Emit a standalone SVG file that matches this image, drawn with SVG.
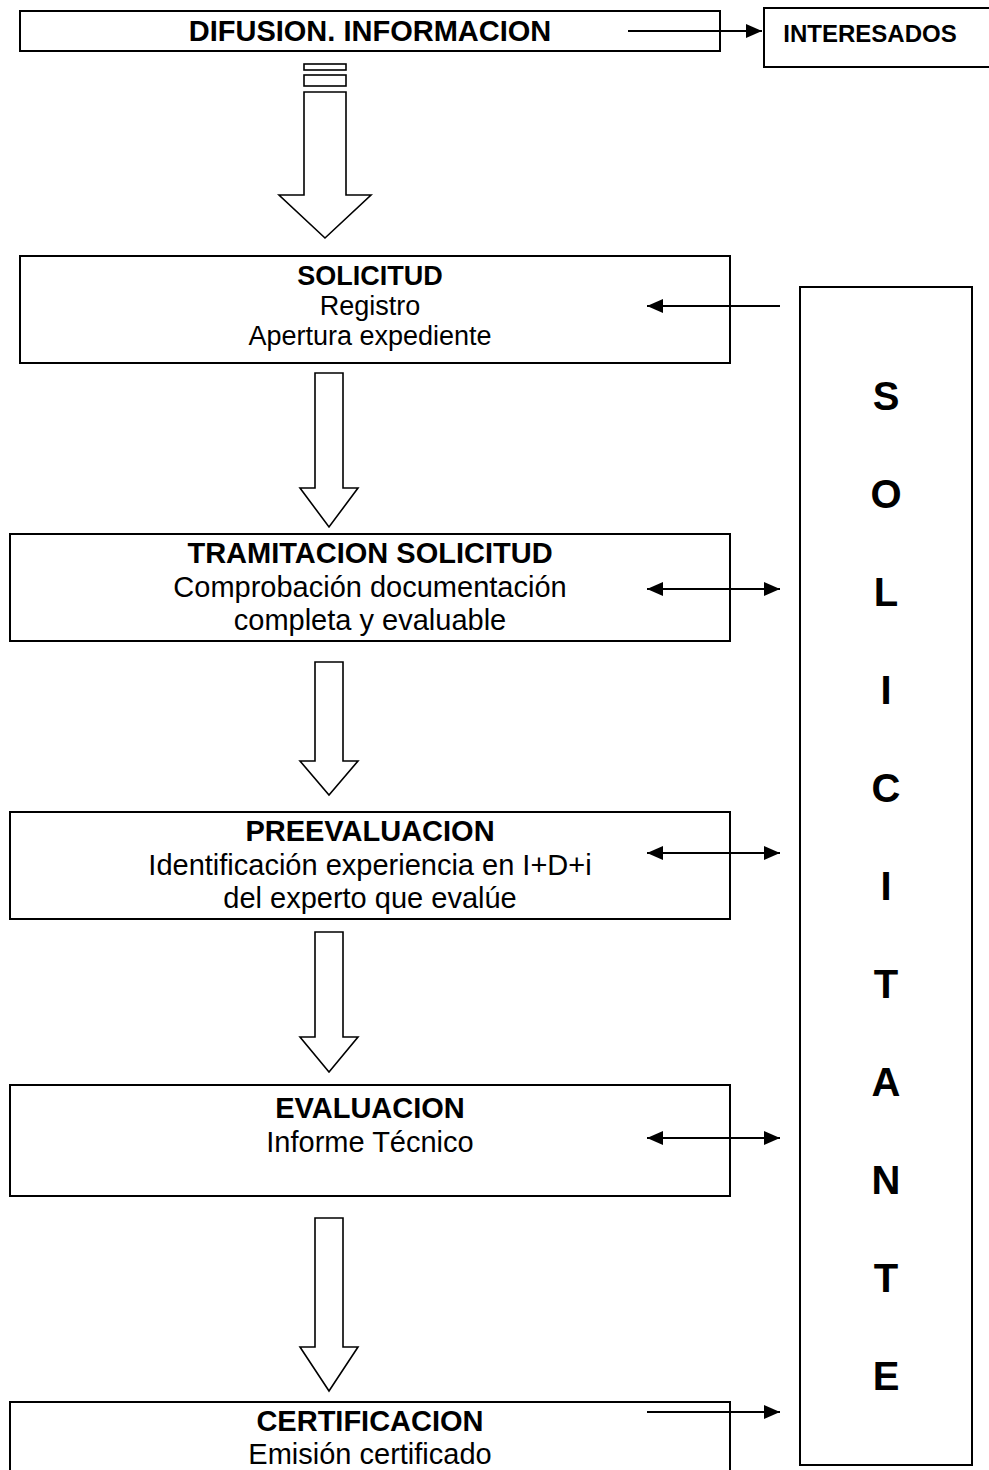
<svg xmlns="http://www.w3.org/2000/svg" width="989" height="1470" viewBox="0 0 989 1470">
<style>
.box{fill:#fff;stroke:#000;stroke-width:2}
.blk{fill:#fff;stroke:#000;stroke-width:1.6;stroke-linejoin:miter}
.ln{stroke:#000;stroke-width:2;fill:none}
.t{font-family:"Liberation Sans",Arial,sans-serif;font-size:29px;text-anchor:middle;fill:#000}
.s{font-size:27px}
.b{font-weight:bold}
.big{font-family:"Liberation Sans",Arial,sans-serif;font-size:40px;font-weight:bold;text-anchor:middle;fill:#000}
</style>
<defs>
<marker id="ah" viewBox="0 0 16 14" refX="16" refY="7" markerWidth="16" markerHeight="14" markerUnits="userSpaceOnUse" orient="auto-start-reverse">
<path d="M0,0 L16,7 L0,14 Z" fill="#000"/>
</marker>
</defs>
<rect width="989" height="1470" fill="#fff"/>

<g id="difusion">
<rect class="box" x="20" y="11" width="700" height="40"/>
<text class="t b" x="370" y="41">DIFUSION. INFORMACION</text>
</g>
<g id="interesados">
<rect class="box" x="764" y="8" width="226" height="59"/>
<text class="t b" x="870" y="42" style="font-size:24px">INTERESADOS</text>
</g>
<g id="solicitud">
<rect class="box" x="20" y="256" width="710" height="107"/>
<text class="t b s" x="370" y="285">SOLICITUD</text>
<text class="t s" x="370" y="315">Registro</text>
<text class="t s" x="370" y="345">Apertura expediente</text>
</g>
<g id="tramitacion">
<rect class="box" x="10" y="534" width="720" height="107"/>
<text class="t b" x="370" y="563">TRAMITACION SOLICITUD</text>
<text class="t" x="370" y="597">Comprobación documentación</text>
<text class="t" x="370" y="630">completa y evaluable</text>
</g>
<g id="preevaluacion">
<rect class="box" x="10" y="812" width="720" height="107"/>
<text class="t b" x="370" y="841">PREEVALUACION</text>
<text class="t" x="370" y="875">Identificación experiencia en I+D+i</text>
<text class="t" x="370" y="908">del experto que evalúe</text>
</g>
<g id="evaluacion">
<rect class="box" x="10" y="1085" width="720" height="111"/>
<text class="t b" x="370" y="1118">EVALUACION</text>
<text class="t" x="370" y="1152">Informe Técnico</text>
</g>
<g id="certificacion">
<rect class="box" x="10" y="1402" width="720" height="80"/>
<text class="t b" x="370" y="1431">CERTIFICACION</text>
<text class="t" x="370" y="1464">Emisión certificado</text>
</g>
<g id="solicitante">
<rect class="box" x="800" y="287" width="172" height="1178"/>
<text class="big" x="886" y="410">S</text>
<text class="big" x="886" y="508">O</text>
<text class="big" x="886" y="606">L</text>
<text class="big" x="886" y="704">I</text>
<text class="big" x="886" y="802">C</text>
<text class="big" x="886" y="900">I</text>
<text class="big" x="886" y="998">T</text>
<text class="big" x="886" y="1096">A</text>
<text class="big" x="886" y="1194">N</text>
<text class="big" x="886" y="1292">T</text>
<text class="big" x="886" y="1390">E</text>
</g>

<g id="connectors">
<rect class="blk" x="304" y="64" width="42" height="6"/>
<rect class="blk" x="304" y="75" width="42" height="11"/>
<polygon class="blk" points="304,92 346,92 346,195 371,195 325,238 279,195 304,195"/>
<polygon class="blk" points="315,373 343,373 343,488 358,488 329,527 300,488 315,488"/>
<polygon class="blk" points="315,662 343,662 343,761 358,761 329,795 300,761 315,761"/>
<polygon class="blk" points="315,932 343,932 343,1037 358,1037 329,1072 300,1037 315,1037"/>
<polygon class="blk" points="315,1218 343,1218 343,1347 358,1347 329,1391 300,1347 315,1347"/>
<line class="ln" x1="628" y1="31" x2="762" y2="31" marker-end="url(#ah)"/>
<line class="ln" x1="780" y1="306" x2="647" y2="306" marker-end="url(#ah)"/>
<line class="ln" x1="647" y1="589" x2="780" y2="589" marker-start="url(#ah)" marker-end="url(#ah)"/>
<line class="ln" x1="647" y1="853" x2="780" y2="853" marker-start="url(#ah)" marker-end="url(#ah)"/>
<line class="ln" x1="647" y1="1138" x2="780" y2="1138" marker-start="url(#ah)" marker-end="url(#ah)"/>
<line class="ln" x1="647" y1="1412" x2="780" y2="1412" marker-end="url(#ah)"/>
</g>
</svg>
